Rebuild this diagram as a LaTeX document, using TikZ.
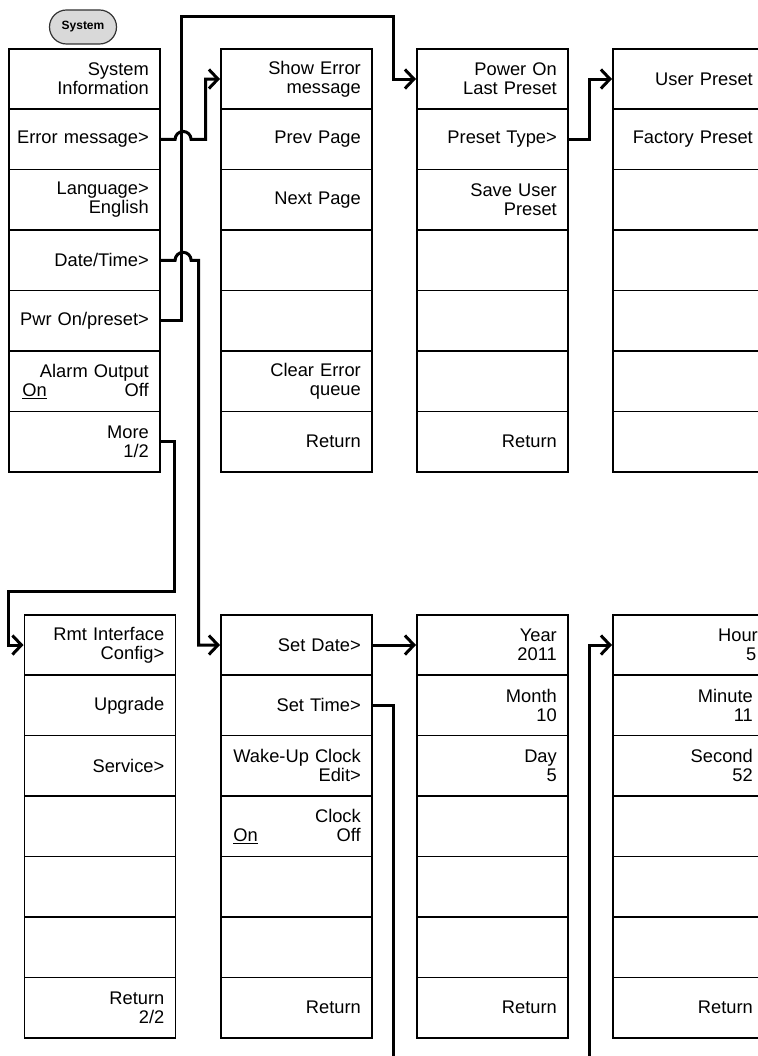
\documentclass[tikz,border=0pt]{standalone}
\usepackage{fontspec}
\setmainfont{Liberation Sans}
\usetikzlibrary{arrows.meta,calc}
\tikzset{
  cell/.style={draw, line width=1.6pt, minimum width=151pt, minimum height=60.43pt,
    inner sep=0pt, text width=140pt, anchor=north west,
    execute at begin node={\raggedleft\rightskip=5.5pt\relax\hyphenpenalty=10000\relax},
    font=\fontsize{18.3pt}{19pt}\selectfont},
  conn/.style={line width=3pt, -{Straight Barb[length=9pt,width=19pt]}},
  wire/.style={line width=3pt},
  sysbtn/.style={draw=black!80, line width=1.2pt, fill=black!15, rounded corners=17pt,
    minimum width=67pt, minimum height=34pt, inner sep=0pt,
    font=\fontsize{12pt}{14pt}\selectfont\bfseries}
}
\newcommand\mcol[4]{%
  \foreach \t [count=\i] in {#4} {
    \node[cell] (#1\i) at (#2,{#3+(\i-1)*60.43}) {\t};
  }}
\begin{document}
\begin{tikzpicture}[x=1pt,y=-1pt]
\useasboundingbox (0,0) rectangle (757,1056);
\node[sysbtn] (sys) at (83,27) {System};
% top columns
\mcol{a}{8}{48}{{System\\Information},{Error message>},{Language>\\English},{Date/Time>},{Pwr On/preset>},{Alarm Output\\\hspace*{8pt}\underline{On}\hfill Off},{More\\1/2}}
\mcol{b}{220}{48}{{Show Error\\message},{Prev Page},{Next Page},{},{},{Clear Error\\queue},{Return}}
\mcol{c}{416}{48}{{Power On\\Last Preset},{Preset Type>},{Save User\\Preset},{},{},{},{Return}}
\mcol{d}{612}{48}{{User Preset},{Factory Preset},{},{},{},{},{}}
% bottom columns
\mcol{e}{23.5}{614}{{Rmt Interface\\Config>},{Upgrade},{Service>},{},{},{},{Return\\2/2}}
\mcol{f}{220}{614}{{Set Date>},{Set Time>},{Wake-Up Clock\\Edit>},{Clock\\\hspace*{7pt}\underline{On}\hfill Off},{},{},{Return}}
\mcol{g}{416}{614}{{Year\\2011},{Month\\10},{Day\\5},{},{},{},{Return}}
\mcol{h}{612}{614}{{Hour\kern-5pt\\5\kern-3.5pt},{Minute\\11},{Second\\52},{},{},{},{Return}}
% connectors
\draw[conn] (a5.east) -| (181.5,17) -- (393,17) |- (c1.west);
\draw[conn] (a2.east) -- ++(14.5,0) arc[start angle=180,end angle=0,radius=8pt] -- ++(14.5,0) |- (b1.west);
\draw[conn] (a4.east) -- ++(14.5,0) arc[start angle=180,end angle=0,radius=8pt] -- ++(7.5,0) |- (f1.west);
\draw[conn] (a7.east) -| (174,591) -- (8,591) |- (e1.west);
\draw[conn] (c2.east) -- ++(21,0) |- (d1.west);
\draw[conn] (f1.east) -- (g1.west);
\coordinate (tend) at (393,1062);
\coordinate (hstart) at (589,1062);
\draw[wire] (f2.east) -| (tend);
\draw[conn] (hstart) |- (h1.west);
\end{tikzpicture}
\end{document}
